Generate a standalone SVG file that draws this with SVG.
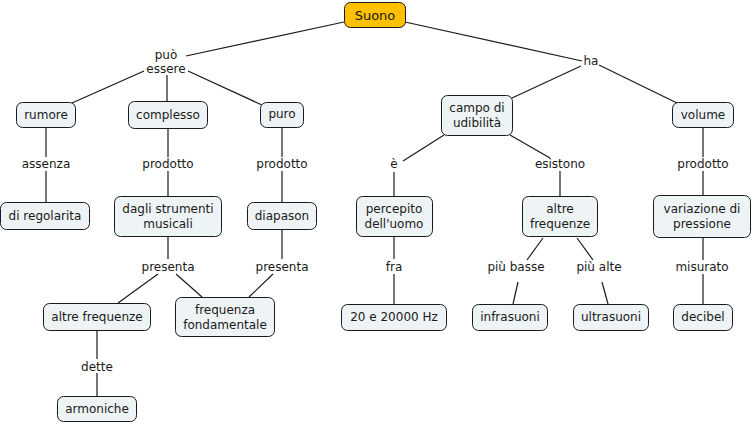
<svg xmlns="http://www.w3.org/2000/svg" width="753" height="424" viewBox="0 0 753 424">
<style>
.n rect{fill:#eef3f5;stroke:#1a1a1a;stroke-width:1}
.root rect{fill:#ffc000;stroke:#1a1a1a;stroke-width:1}
text{font-family:"DejaVu Sans",Verdana,sans-serif;font-size:12px;fill:#1a1a1a;text-anchor:middle}
.root text{font-size:13px}
#links line{stroke:#1a1a1a;stroke-width:1.2}
</style>
<rect width="753" height="424" fill="#fff"/>
<g id="links">
<line x1="344" y1="22" x2="186" y2="56"/>
<line x1="405" y1="22" x2="582" y2="61"/>
<line x1="144" y1="71" x2="72" y2="103"/>
<line x1="167" y1="75" x2="167" y2="101"/>
<line x1="188" y1="71" x2="262" y2="105"/>
<line x1="581" y1="66" x2="512" y2="98"/>
<line x1="599" y1="65" x2="677" y2="103"/>
<line x1="46" y1="127" x2="46" y2="157"/>
<line x1="46" y1="171" x2="46" y2="202"/>
<line x1="168" y1="128" x2="168" y2="157"/>
<line x1="168" y1="171" x2="168" y2="196"/>
<line x1="282" y1="127" x2="282" y2="157"/>
<line x1="282" y1="171" x2="282" y2="202"/>
<line x1="444" y1="135" x2="403" y2="161"/>
<line x1="510" y1="135" x2="550" y2="158"/>
<line x1="394" y1="172" x2="394" y2="196"/>
<line x1="560" y1="171" x2="560" y2="196"/>
<line x1="703" y1="127" x2="703" y2="157"/>
<line x1="703" y1="171" x2="703" y2="195"/>
<line x1="168" y1="236" x2="168" y2="259"/>
<line x1="158" y1="274" x2="118" y2="303"/>
<line x1="176" y1="274" x2="202" y2="297"/>
<line x1="282" y1="229" x2="282" y2="259"/>
<line x1="273" y1="274" x2="249" y2="297"/>
<line x1="394" y1="236" x2="394" y2="259"/>
<line x1="394" y1="274" x2="394" y2="304"/>
<line x1="543" y1="238" x2="527" y2="260"/>
<line x1="518" y1="282" x2="513" y2="304"/>
<line x1="577" y1="238" x2="593" y2="260"/>
<line x1="602" y1="282" x2="608" y2="304"/>
<line x1="703" y1="237" x2="703" y2="260"/>
<line x1="703" y1="274" x2="703" y2="304"/>
<line x1="97" y1="330" x2="97" y2="359"/>
<line x1="97" y1="373" x2="97" y2="396"/>
</g>
<g id="labels">
<text x="166" y="59">può</text>
<text x="166" y="73">essere</text>
<text x="591" y="65">ha</text>
<text x="46" y="168">assenza</text>
<text x="168" y="168">prodotto</text>
<text x="282" y="168">prodotto</text>
<text x="394" y="168">è</text>
<text x="560" y="168">esistono</text>
<text x="703" y="168">prodotto</text>
<text x="168" y="271">presenta</text>
<text x="282" y="271">presenta</text>
<text x="394" y="271">fra</text>
<text x="516" y="271">più basse</text>
<text x="599" y="271">più alte</text>
<text x="702" y="271">misurato</text>
<text x="97" y="371">dette</text>
</g>
<g id="suono" class="root"><rect x="344.5" y="2.5" width="61" height="25" rx="6"/><text x="375" y="20">Suono</text></g>
<g id="rumore" class="n"><rect x="16.5" y="102.5" width="59" height="25" rx="6"/><text x="46" y="119">rumore</text></g>
<g id="complesso" class="n"><rect x="128.5" y="101.5" width="79" height="27" rx="6"/><text x="168" y="119">complesso</text></g>
<g id="puro" class="n"><rect x="260.5" y="102.5" width="43" height="25" rx="6"/><text x="282" y="118">puro</text></g>
<g id="campo" class="n"><rect x="441.5" y="95.5" width="71" height="40" rx="6"/><text x="477" y="112">campo di</text><text x="477" y="127">udibilità</text></g>
<g id="volume" class="n"><rect x="672.5" y="102.5" width="61" height="25" rx="6"/><text x="703" y="119">volume</text></g>
<g id="regolarita" class="n"><rect x="0.5" y="202.5" width="89" height="27" rx="6"/><text x="45" y="220">di regolarita</text></g>
<g id="strumenti" class="n"><rect x="114.5" y="196.5" width="107" height="40" rx="6"/><text x="168" y="213">dagli strumenti</text><text x="168" y="228">musicali</text></g>
<g id="diapason" class="n"><rect x="247.5" y="202.5" width="69" height="27" rx="6"/><text x="282" y="220">diapason</text></g>
<g id="percepito" class="n"><rect x="356.5" y="196.5" width="76" height="40" rx="6"/><text x="394" y="213">percepito</text><text x="394" y="228">dell'uomo</text></g>
<g id="altre2" class="n"><rect x="522.5" y="196.5" width="75" height="40" rx="6"/><text x="560" y="213">altre</text><text x="560" y="228">frequenze</text></g>
<g id="variazione" class="n"><rect x="653.5" y="195.5" width="97" height="42" rx="6"/><text x="702" y="213">variazione di</text><text x="702" y="228">pressione</text></g>
<g id="altre1" class="n"><rect x="43.5" y="303.5" width="107" height="27" rx="6"/><text x="97" y="321">altre frequenze</text></g>
<g id="fondamentale" class="n"><rect x="175.5" y="297.5" width="99" height="39" rx="6"/><text x="225" y="314">frequenza</text><text x="225" y="329">fondamentale</text></g>
<g id="hz" class="n"><rect x="341.5" y="304.5" width="105" height="26" rx="6"/><text x="394" y="321">20 e 20000 Hz</text></g>
<g id="infrasuoni" class="n"><rect x="472.5" y="304.5" width="75" height="26" rx="6"/><text x="510" y="321">infrasuoni</text></g>
<g id="ultrasuoni" class="n"><rect x="573.5" y="304.5" width="75" height="26" rx="6"/><text x="611" y="321">ultrasuoni</text></g>
<g id="decibel" class="n"><rect x="673.5" y="304.5" width="59" height="26" rx="6"/><text x="703" y="321">decibel</text></g>
<g id="armoniche" class="n"><rect x="57.5" y="396.5" width="79" height="25" rx="6"/><text x="97" y="413">armoniche</text></g>
</svg>
